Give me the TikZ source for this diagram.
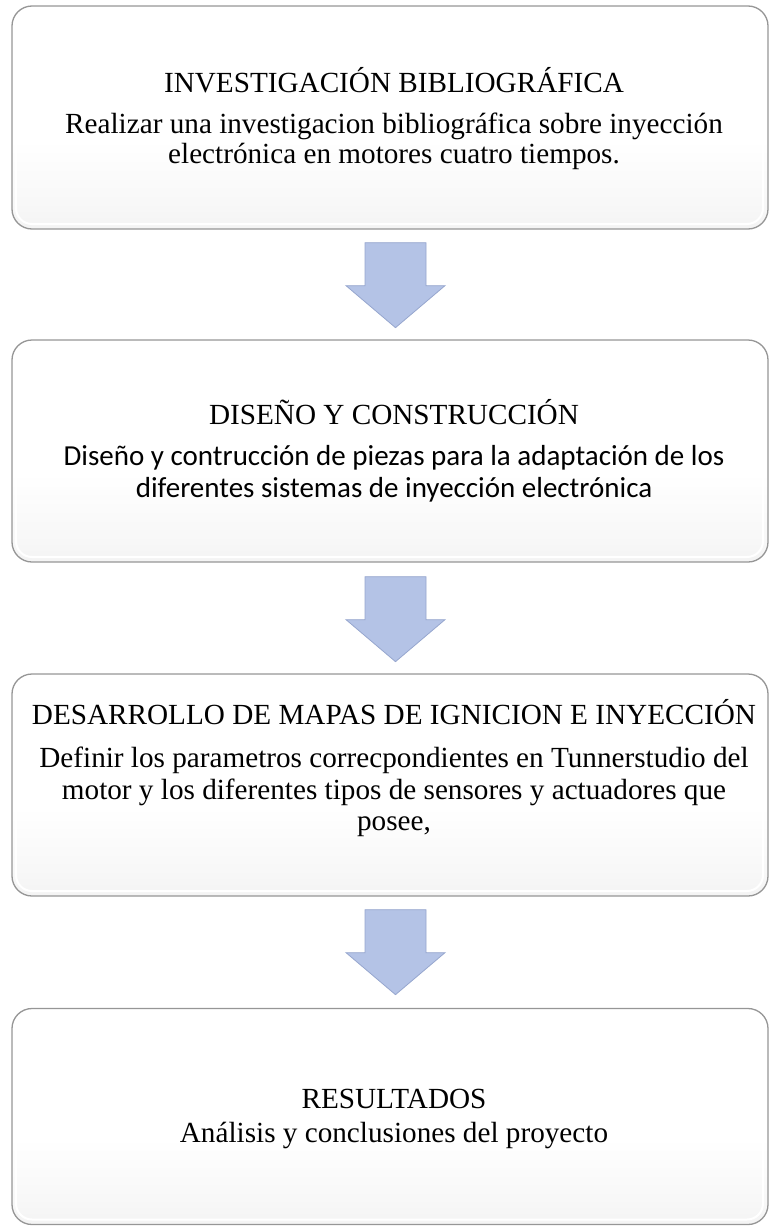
\documentclass[tikz,border=0pt]{standalone}
\usepackage{fontspec}
\setmainfont{Liberation Serif}
\newfontfamily\calibrifont{Carlito}
\usetikzlibrary{calc}
\definecolor{arrowfill}{RGB}{180,195,230}
\definecolor{arrowline}{RGB}{150,166,206}
\definecolor{boxline}{RGB}{150,150,150}
\pgfdeclareverticalshading{boxshade}{100bp}{color(0bp)=(black!20); color(10bp)=(black!9); color(30bp)=(black!3); color(45bp)=(white); color(100bp)=(white)}
\tikzset{
  box/.style={rounded corners=20pt, draw=boxline, line width=1.3pt, shading=boxshade,
    minimum width=756pt,
    path picture={\draw[white, line width=2pt, rounded corners=16pt]
      ([shift={(4pt,5pt)}]path picture bounding box.south west) rectangle
      ([shift={(-5pt,-3pt)}]path picture bounding box.north east);}},
  txt/.style={anchor=base, inner sep=0pt, font=\fontsize{29.2}{34}\selectfont},
  ctxt/.style={anchor=base, inner sep=0pt, font=\calibrifont\fontsize{29}{34}\selectfont},
  blockarrow/.style={fill=arrowfill, draw=arrowline, line width=0.8pt, line join=miter},
  downarrow/.pic={\draw[blockarrow] (-30.5,0) -- (30.5,0) -- (30.5,43) -- (49.5,43) -- (0,85) -- (-49.5,43) -- (-30.5,43) -- cycle;}
}
\begin{document}
\begin{tikzpicture}[x=1pt,y=-1pt]
\useasboundingbox (0,0) rectangle (769,1226);
% boxes
\node[box, minimum height=223pt] (b1) at (390,117.5) {};
\node[box, minimum height=222pt] (b2) at (390,451) {};
\node[box, minimum height=222pt] (b3) at (390,785) {};
\node[box, minimum height=216pt] (b4) at (390,1116.5) {};
% arrows
\path (b1.south) ++(5.5,13) pic {downarrow};
\path (b2.south) ++(5.5,14) pic {downarrow};
\path (b3.south) ++(5.5,13) pic {downarrow};
% texts box 1
\node[txt] (t1) at (394,92) {INVESTIGACIÓN BIBLIOGRÁFICA};
\node[txt] (t1a) at (394,133) {Realizar una investigacion bibliográfica sobre inyección};
\node[txt] (t1b) at (394,163) {electrónica en motores cuatro tiempos.};
% texts box 2
\node[txt] (t2) at (394,424) {DISEÑO Y CONSTRUCCIÓN};
\node[ctxt] (t2a) at (394,465) {Diseño y contrucción de piezas para la adaptación de los};
\node[ctxt] (t2b) at (394,497) {diferentes sistemas de inyección electrónica};
% texts box 3
\node[txt] (t3) at (394,724) {DESARROLLO DE MAPAS DE IGNICION E INYECCIÓN};
\node[txt] (t3a) at (394,767) {Definir los parametros correcpondientes en Tunnerstudio del};
\node[txt] (t3b) at (394,799) {motor y los diferentes tipos de sensores y actuadores que};
\node[txt] (t3c) at (394,830) {posee,};
% texts box 4
\node[txt] (t4) at (394,1108) {RESULTADOS};
\node[txt] (t4a) at (394,1142) {Análisis y conclusiones del proyecto};
\end{tikzpicture}
\end{document}
